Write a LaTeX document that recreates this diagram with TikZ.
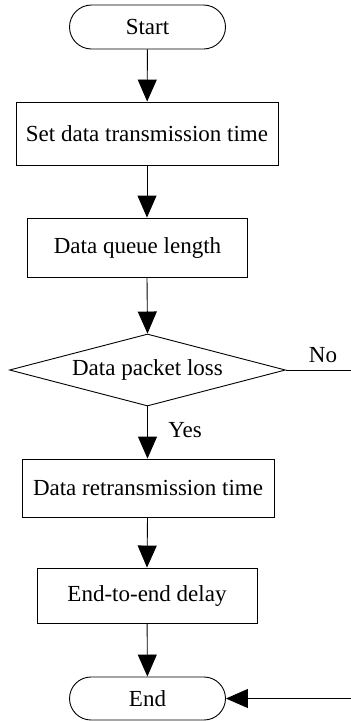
\documentclass[tikz,border=0pt]{standalone}
\usepackage{fontspec}
\setmainfont{Liberation Serif}
\usetikzlibrary{shapes.geometric,shapes.misc,arrows.meta}
\begin{document}
\begin{tikzpicture}[x=1pt,y=-1pt,
  every node/.style={font=\fontsize{23}{27}\selectfont, inner sep=0pt},
  term/.style={draw, rounded rectangle, minimum width=156pt, minimum height=44pt, line width=0.9pt},
  proc/.style={draw, rectangle, line width=0.9pt},
  decis/.style={draw, diamond, aspect=3.83, minimum width=276pt, minimum height=72pt, line width=0.9pt},
  flow/.style={line width=0.9pt, -{Triangle[length=22pt,width=19pt]}},
  plain/.style={line width=0.9pt}]
\useasboundingbox (0,0) rectangle (351,721);
\node[term] (start) at (147.5,27) {Start};
\node[proc, minimum width=262pt, minimum height=63pt] (set) at (147,133.5) {Set data transmission time};
\node[proc, minimum width=220pt, minimum height=59pt] (queue) at (137.5,247.5) {Data queue length};
\node[decis] (dec) at (147.5,370) {Data packet loss};
\node[proc, minimum width=252pt, minimum height=58pt] (retx) at (148,488) {Data retransmission time};
\node[proc, minimum width=220pt, minimum height=55pt] (delay) at (147,595.5) {End-to-end delay};
\node[term, minimum height=43pt] (end) at (147.5,698.5) {End};
\coordinate (noend) at (351,370);
\coordinate (inend) at (351,698.5);
\node (no) at (323,355) {No};
\node (yes) at (185,430) {Yes};
\draw[flow] (start) -- (set);
\draw[flow] (set.south) -- (set.south |- queue.north);
\draw[flow] (set.south |- queue.south) -- (dec.north);
\draw[plain] (dec.east) -- (noend);
\draw[flow] (dec.south) -- (dec.south |- retx.north);
\draw[flow] (dec.south |- retx.south) -- (delay.north);
\draw[flow] (delay) -- (end);
\draw[flow] (inend) -- (end.east);
\end{tikzpicture}
\end{document}
